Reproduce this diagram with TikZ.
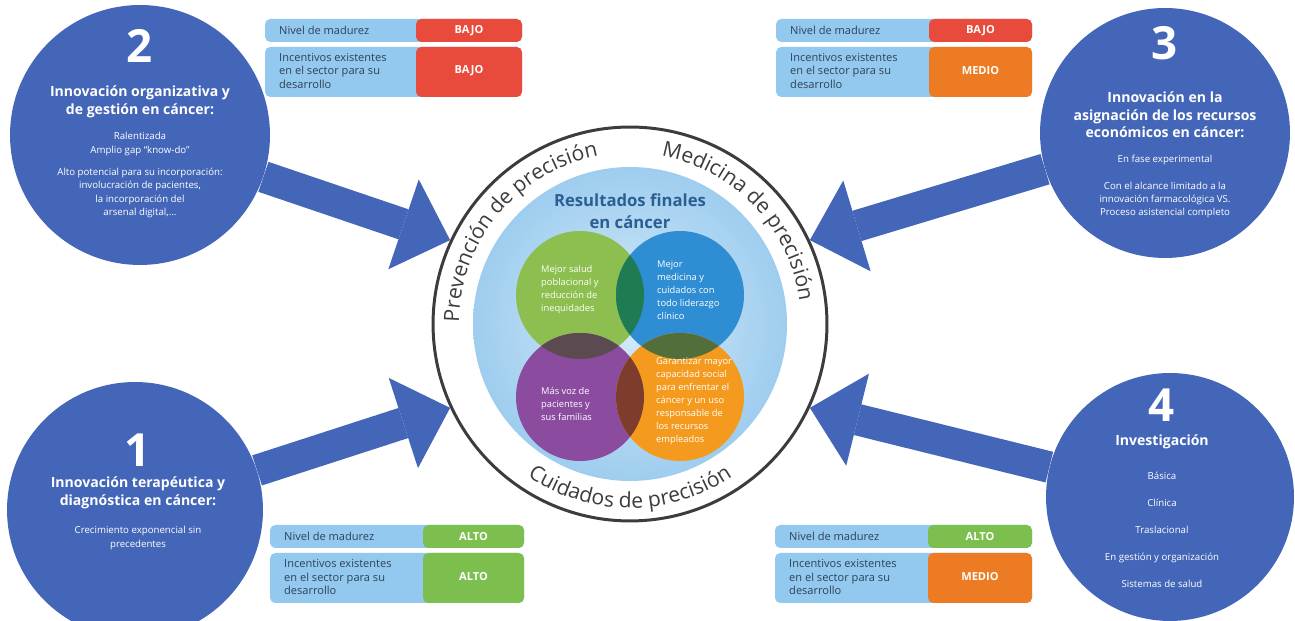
\documentclass[tikz,border=0pt]{standalone}
\usepackage{fontspec}
\setmainfont{Open Sans}
\usetikzlibrary{arrows.meta,decorations.text}
\definecolor{discblue}{HTML}{4466B8}
\definecolor{ringgray}{HTML}{3C3C3C}
\definecolor{discin}{HTML}{D6EBF8}
\definecolor{discout}{HTML}{9ECDEF}
\definecolor{titleblue}{HTML}{2B5F93}
\definecolor{vgreen}{HTML}{8CBF4F}
\definecolor{vblue}{HTML}{2F8DD3}
\definecolor{vpurple}{HTML}{8B4B9F}
\definecolor{vorange}{HTML}{F49B1F}
\definecolor{ovgb}{HTML}{1E7B52}
\definecolor{ovgp}{HTML}{5B4A4F}
\definecolor{ovbo}{HTML}{516E3B}
\definecolor{ovpo}{HTML}{7D3C2C}
\definecolor{rowblue}{HTML}{93C9EE}
\definecolor{rowtxt}{HTML}{2E4257}
\definecolor{bajo}{HTML}{E84A3B}
\definecolor{medio}{HTML}{EC7B23}
\definecolor{alto}{HTML}{7DBF4F}
\begin{document}
\begin{tikzpicture}[x=0.02cm,y=0.02cm,
	bigdisc/.style={circle,fill=discblue,inner sep=0pt},
	bigarrow/.style={draw=discblue,line width=18pt,-{Triangle[length=28pt,width=54pt,line width=0pt]}},
	bignum/.style={text=white,font=\bfseries\fontsize{26}{26}\selectfont},
	ctitle/.style={text=white,align=center,font=\bfseries\fontsize{8}{10}\selectfont},
	cbody/.style={text=white,align=center,font=\fontsize{5.5}{7.5}\selectfont},
	vtext/.style={text=white,align=left,anchor=west,font=\fontsize{5.3}{7.4}\selectfont},
	rowtext/.style={text=rowtxt,align=left,anchor=west,font=\fontsize{6.3}{7.7}\selectfont},
	valtext/.style={text=white,font=\bfseries\fontsize{6.3}{7}\selectfont},
	ringtext/.style={decorate,decoration={text along path,text align=center,text color=ringgray,text={|\fontsize{12}{12}\selectfont|#1}}}]
	\useasboundingbox (0,0) rectangle (1295,621);

	\shade[inner color=discin,outer color=discout] (630,297) circle[radius=157];
	\node[circle,draw=ringgray,line width=1.7pt,minimum size=7.88cm,inner sep=0pt] (ring) at (630,297) {};
	\path[ringtext={Prevención de precisión}] ([shift={(200:171)}]630,297) arc[start angle=200,end angle=80,radius=171];
	\path[ringtext={Medicina de precisión}] ([shift={(103:171)}]630,297) arc[start angle=103,end angle=-16,radius=171];
	\path[ringtext={Cuidados de precisión}] ([shift={(210:184)}]630,297) arc[start angle=210,end angle=330,radius=184];

	\fill[vgreen] (580,326) circle[radius=64];
	\fill[vblue] (680,326) circle[radius=64];
	\fill[vpurple] (580,224) circle[radius=64];
	\fill[vorange] (680,224) circle[radius=64];
	\begin{scope}
		\clip (580,326) circle[radius=64];
		\fill[ovgb] (680,326) circle[radius=64];
		\fill[ovgp] (580,224) circle[radius=64];
	\end{scope}
	\begin{scope}
		\clip (680,224) circle[radius=64];
		\fill[ovbo] (680,326) circle[radius=64];
		\fill[ovpo] (580,224) circle[radius=64];
	\end{scope}
	\node[font=\bfseries\fontsize{9.5}{12.5}\selectfont,text=titleblue,align=center] (res) at (630,410) {Resultados finales\\en cáncer};
	\node[vtext] (vg) at (535,331) {Mejor salud\\poblacional y\\reducción de\\inequidades};
	\node[vtext] (vb) at (651,331) {Mejor\\medicina y\\cuidados con\\todo liderazgo\\clínico};
	\node[vtext] (vp) at (535,217) {Más voz de\\pacientes y\\sus familias};
	\node[vtext] (vo) at (650,220) {Garantizar mayor\\capacidad social\\para enfrentar el\\cáncer y un uso\\responsable de\\los recursos\\empleados};

	\node[bigdisc,minimum size=5.2cm] (c2) at (140,486) {};
	\node[bigdisc,minimum size=5cm] (c3) at (1165,488) {};
	\node[bigdisc,minimum size=5.12cm] (c1) at (135,111) {};
	\node[bigdisc,minimum size=4.96cm] (c4) at (1170,124) {};
	\draw[bigarrow] (c2) -- (ring.155);
	\draw[bigarrow] (c3) -- (ring.25);
	\draw[bigarrow] (c1) -- (ring.205);
	\draw[bigarrow] (c4) -- (ring.335);

	\node[bignum] (n2) at (140,575) {2};
	\node[ctitle] (t2) at (140,519) {Innovación organizativa y\\de gestión en cáncer:};
	\node[cbody] (b2a) at (140,477) {Ralentizada\\Amplio gap “know-do”};
	\node[cbody] (b2b) at (140,428) {Alto potencial para su incorporación:\\involucración de pacientes,\\la incorporación del\\arsenal digital,...};

	\node[bignum] (n3) at (1165,578) {3};
	\node[ctitle] (t3) at (1165,506) {Innovación en la\\asignación de los recursos\\económicos en cáncer:};
	\node[cbody] (b3a) at (1165,461) {En fase experimental};
	\node[cbody] (b3b) at (1165,421) {Con el alcance limitado a la\\innovación farmacológica VS.\\Proceso asistencial completo};

	\node[bignum] (n1) at (138,171) {1};
	\node[ctitle] (t1) at (138,128) {Innovación terapéutica y\\diagnóstica en cáncer:};
	\node[cbody] (b1) at (138,83) {Crecimiento exponencial sin\\precedentes};

	\node[bignum] (n4) at (1162,216) {4};
	\node[ctitle] (t4) at (1162,179) {Investigación};
	\node[cbody,font=\fontsize{5.5}{15.3}\selectfont] (b4) at (1162,91) {Básica\\Clínica\\Traslacional\\En gestión y organización\\Sistemas de salud};

	\foreach \nm/\xa/\xb/\xc/\yt/\ca/\la/\cb/\lb in {tl/265/416/522/602/bajo/BAJO/bajo/BAJO,tr/776/929/1032/602/bajo/BAJO/medio/MEDIO,bl/270/423/524/96/alto/ALTO/alto/ALTO,br/775/928/1032/96/alto/ALTO/medio/MEDIO}{
		\fill[rowblue,rounded corners=3pt] (\xa,\yt) rectangle ({\xc},{\yt-23});
		\fill[rowblue,rounded corners=3pt] ({\xa},{\yt-28}) rectangle ({\xc},{\yt-78});
		\fill[\ca,rounded corners=3pt] (\xb,\yt) rectangle ({\xc},{\yt-23});
		\fill[\cb,rounded corners=3pt] ({\xb},{\yt-28}) rectangle ({\xc},{\yt-78});
		\node[rowtext] (\nm-lev) at ({\xa+8},{\yt-11.5}) {Nivel de madurez};
		\node[rowtext] (\nm-inc) at ({\xa+8},{\yt-52}) {Incentivos existentes\\en el sector para su\\desarrollo};
		\node[valtext] (\nm-va) at ({(\xb+\xc)/2},{\yt-11.5}) {\la};
		\node[valtext] (\nm-vb) at ({(\xb+\xc)/2},{\yt-52}) {\lb};
	}
\end{tikzpicture}
\end{document}
